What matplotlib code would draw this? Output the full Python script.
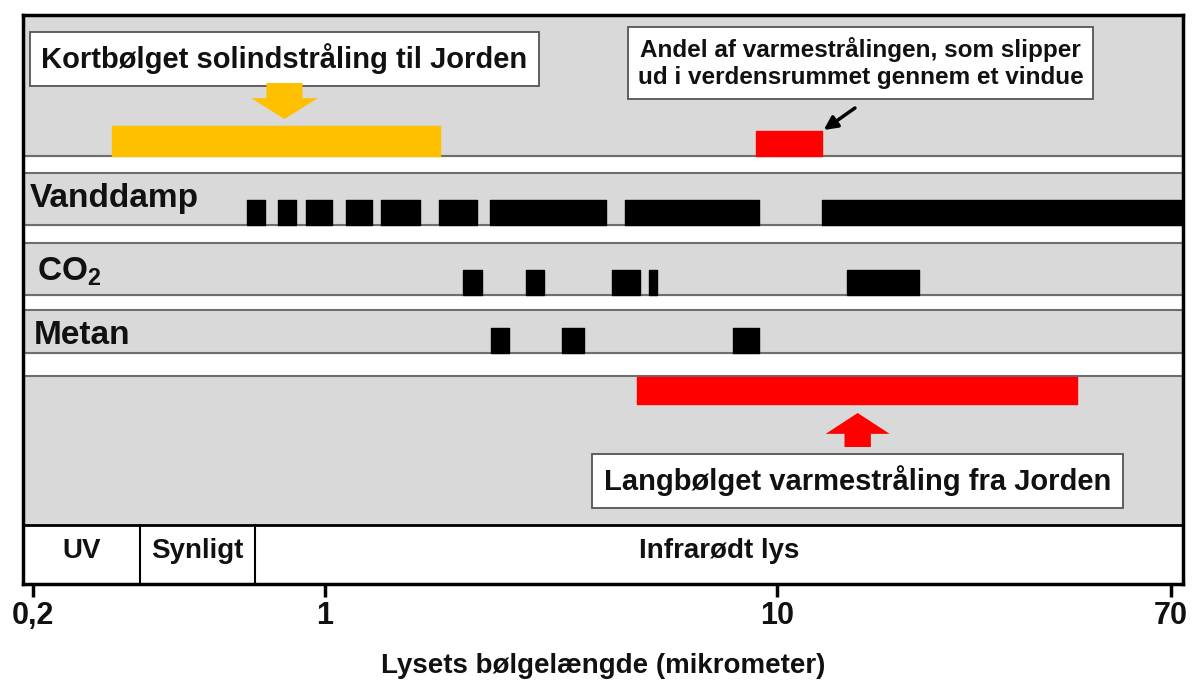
import numpy as np
import matplotlib
matplotlib.use('Agg')
import matplotlib.pyplot as plt
from matplotlib.ticker import FixedLocator, NullLocator

plt.rcParams['font.family'] = ['Liberation Sans', 'DejaVu Sans']
plt.rcParams['mathtext.fontset'] = 'custom'
plt.rcParams['mathtext.rm'] = 'Liberation Sans:bold'
plt.rcParams['mathtext.bf'] = 'Liberation Sans:bold'

# bølgelængder i mikrometer
sol_band = (0.31, 1.8)
vindue_band = (9.0, 12.5)
jord_band = (4.9, 44.0)
vanddamp = [(0.65, 0.717), (0.772, 0.852), (0.90, 1.036), (1.113, 1.27), (1.33, 1.62),
            (1.79, 2.17), (2.32, 4.19), (4.61, 9.12), (12.5, 80)]
co2 = [(2.02, 2.23), (2.78, 3.05), (4.31, 4.98), (5.21, 5.43), (14.1, 20.2)]
metan = [(2.33, 2.55), (3.35, 3.74), (7.99, 9.12)]
gasser = ['Vanddamp', 'CO$_2$', 'Metan']
omraader = ['UV', 'Synligt', 'Infrarødt lys']
omraade_graenser = [0.36, 0.68]
xticks = [0.2, 1, 10, 70]
xticklabels = ['0,2', '1', '10', '70']

# aksen i originalen er ikke helt logaritmisk -> stykvis log-skala
kl = np.log10([0.1, 0.2, 1, 10, 70, 100])
kp = np.array([-92.8, 33, 325, 777, 1171, 1243.2])


def fwd(x):
    x = np.asarray(x, dtype=float)
    return np.interp(np.log10(np.clip(x, 1e-3, None)), kl, kp)


def inv(p):
    return 10 ** np.interp(np.asarray(p, dtype=float), kp, kl)


GRAY = '#d9d9d9'
LINE = '#6e6e6e'
TXT = '#111111'

fig = plt.figure(figsize=(11.94, 6.84), dpi=100)
ax = fig.add_axes([23 / 1194, 100 / 684, 1160 / 1194, 569 / 684])
ax.set_xscale('function', functions=(fwd, inv))
xmin, xmax = 0.1893, 74.3
ax.set_xlim(xmin, xmax)
ax.set_ylim(584, 15)  # y = pixel-lignende layout fra toppen

# baand: (top, bund)
baand = [(15, 156), (173, 225), (243, 295), (310, 353), (376, 525)]
for top, bund in baand:
    ax.axhspan(top, bund, color=GRAY, zorder=0)
    for yy in (top, bund):
        if yy not in (15, 525):
            ax.axhline(yy, color=LINE, lw=1.5, zorder=1)

# gasrækker
raekker = [(vanddamp, 200, 225, 199, 0.006), (co2, 270, 295, 272, 0.012), (metan, 328, 353, 336, 0.009)]
for (data, y0, y1, ty, tx), navn in zip(raekker, gasser):
    ax.broken_barh([(a, b - a) for a, b in data], (y0, y1 - y0), color='black', zorder=2)
    ax.text(tx, ty, navn, transform=ax.get_yaxis_transform(), fontsize=24,
            fontweight='bold', ha='left', va='center', color=TXT)

# sollys, vindue og varmestråling
ax.broken_barh([(sol_band[0], sol_band[1] - sol_band[0])], (126, 30), color='#ffc000', zorder=2)
ax.broken_barh([(vindue_band[0], vindue_band[1] - vindue_band[0])], (131, 25), color='#ff0000', zorder=2)
ax.broken_barh([(jord_band[0], jord_band[1] - jord_band[0])], (377, 27), color='#ff0000', zorder=2)

boks = dict(boxstyle='square,pad=0.4', fc='white', ec='#555555', lw=1.3)
ax.text(0.80, 59, 'Kortbølget solindstråling til Jorden', fontsize=21, fontweight='bold',
        ha='center', va='center', bbox=boks, zorder=3, color=TXT)
ax.text(15.1, 63, 'Andel af varmestrålingen, som slipper\nud i verdensrummet gennem et vindue',
        fontsize=17.5, fontweight='bold', ha='center', va='center', linespacing=1.25,
        bbox=dict(boks, pad=0.5), zorder=3, color=TXT)
ax.text(14.9, 481, 'Langbølget varmestråling fra Jorden', fontsize=21, fontweight='bold',
        ha='center', va='center', bbox=dict(boks, pad=0.35), zorder=3, color=TXT)

# pile
ax.annotate('', xy=(0.80, 119), xytext=(0.80, 83),
            arrowprops=dict(arrowstyle='simple,head_width=4.8,head_length=1.5,tail_width=2.6',
                            fc='#ffc000', ec='none', shrinkA=0, shrinkB=0), zorder=3)
ax.annotate('', xy=(14.9, 413), xytext=(14.9, 447),
            arrowprops=dict(arrowstyle='simple,head_width=4.6,head_length=1.5,tail_width=1.9',
                            fc='#ff0000', ec='none', shrinkA=0, shrinkB=0), zorder=3)
ax.annotate('', xy=(12.6, 130), xytext=(14.7, 108),
            arrowprops=dict(arrowstyle='-|>,head_width=0.4,head_length=0.8', color='black',
                            lw=2.5, shrinkA=0, shrinkB=0), zorder=3)

# UV / synligt / infrarødt
ax.axhline(525, color='black', lw=2, zorder=2)
for g in omraade_graenser:
    ax.plot([g, g], [525, 584], color='black', lw=1.5, zorder=2)
kanter = [xmin] + omraade_graenser + [xmax]
for navn, a, b in zip(omraader, kanter[:-1], kanter[1:]):
    xc = inv((fwd(a) + fwd(b)) / 2)
    ax.text(xc, 551, navn, fontsize=20, fontweight='bold',
            ha='center', va='center', color=TXT)

# akser
for s in ax.spines.values():
    s.set_linewidth(2.5)
ax.yaxis.set_visible(False)
ax.xaxis.set_major_locator(FixedLocator(xticks))
ax.xaxis.set_minor_locator(NullLocator())
ax.set_xticklabels(xticklabels, fontsize=22, fontweight='bold', color=TXT)
ax.tick_params(axis='x', length=9, width=2.5, pad=3)
ax.set_xlabel('Lysets bølgelængde (mikrometer)', fontsize=20, fontweight='bold',
              labelpad=16, color=TXT)

fig.savefig('out.png', dpi=100, facecolor='white')
